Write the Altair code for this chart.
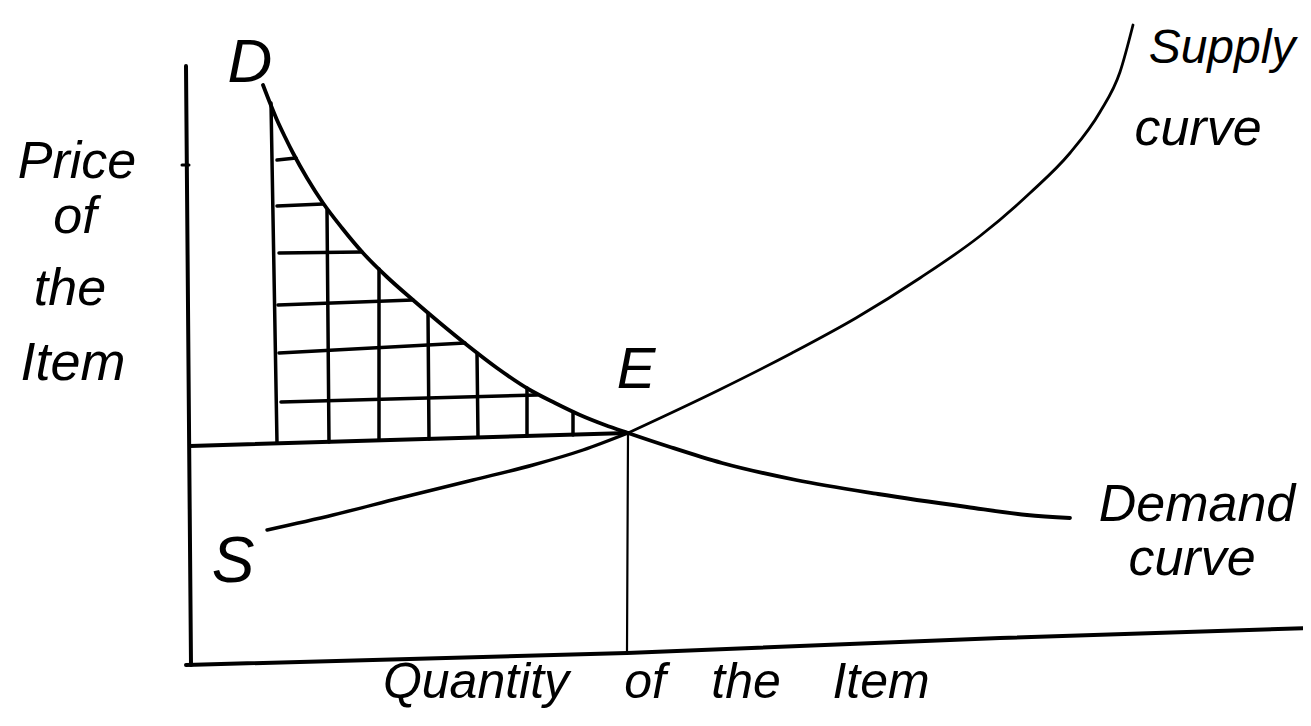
import altair as alt
import pandas as pd

# ---- picture-space reading (x grows right, y grows down) ----
W, H = 1295, 705
X0, Y0 = 8, 8

# axes (hand drawn, slightly tilted)
y_axis_x = [186, 191]
y_axis_y = [66, 665]
x_axis_x = [186, 627, 1000, 1308]
x_axis_y = [665, 653, 638, 628]
tick_x = [182, 189]
tick_y = [165, 165]

# equilibrium price line and quantity drop
price_x = [190, 628]
price_y = [446, 433]
drop_x = [628, 627]
drop_y = [433, 653]

# demand curve
demand_x = [263, 270, 277, 285, 293, 307, 323, 342, 363, 387, 413, 440, 467, 497, 530, 555,
            580, 605, 628, 670, 722, 796, 878, 967, 1027, 1070]
demand_y = [85, 103, 120, 137, 153, 178, 203, 228, 253, 277, 300, 323, 345, 368, 390, 403,
            415, 425, 433, 447, 463, 480, 494, 507, 515, 518]

# supply curve (lower part S..E, upper part E..top)
supply_lo_x = [267, 333, 400, 473, 533, 583, 628]
supply_lo_y = [530, 515, 498, 480, 465, 450, 433]
supply_hi_x = [628, 719, 792, 856, 920, 980, 1030, 1070, 1100, 1120, 1133]
supply_hi_y = [433, 390, 353, 318, 278, 236, 193, 153, 112, 72, 25]

# consumer-surplus hatching: vertical strokes
v_x_top = [271, 327, 379, 428, 477, 527, 573]
v_x_bot = [277, 329, 379, 429, 478, 527, 573]
v_y_top = [103, 210, 269, 313, 353, 388, 412]
v_y_bot = [443, 442, 440, 439, 437, 436, 435]
# horizontal strokes
h_x_left = [277, 277, 279, 278, 279, 281]
h_x_right = [296, 323, 362, 413, 465, 537]
h_y_left = [160, 206, 253, 305, 353, 402]
h_y_right = [158, 204, 252, 300, 343, 395]

# labels
label_text = ["D", "Price", "of", "the", "Item", "E", "S", "Supply", "curve",
              "Demand", "curve", "Quantity", "of", "the", "Item"]
label_x = [250, 77, 75, 70, 73, 636, 233, 1222, 1198, 1197, 1192, 476, 645, 746, 881]
label_y = [82, 178, 233, 305, 380, 388, 582, 63, 145, 521, 575, 698, 698, 698, 698]
label_size = [62, 52, 52, 52, 54, 58, 64, 48, 52, 52, 52, 50, 50, 50, 50]

# ---- build tables ----
rows = []
curve_rows = []


def add(name, xs, ys, w, target=rows):
    for i, (x, y) in enumerate(zip(xs, ys)):
        target.append({"series": name, "i": i, "x": x, "y": y, "w": w})


add("yaxis", y_axis_x, y_axis_y, 4)
add("xaxis", x_axis_x, x_axis_y, 4)
add("tick", tick_x, tick_y, 3)
add("price", price_x, price_y, 4)
add("drop", drop_x, drop_y, 2.2)
for k in range(len(v_x_top)):
    add(f"v{k}", [v_x_top[k], v_x_bot[k]], [v_y_top[k], v_y_bot[k]], 3.5)
for k in range(len(h_x_left)):
    add(f"h{k}", [h_x_left[k], h_x_right[k]], [h_y_left[k], h_y_right[k]], 3.5)
add("demand", demand_x, demand_y, 3.8, curve_rows)
add("supply_lo", supply_lo_x, supply_lo_y, 3.4, curve_rows)
add("supply_hi", supply_hi_x, supply_hi_y, 2.8, curve_rows)

lines = pd.DataFrame(rows)
curves = pd.DataFrame(curve_rows)
labels = pd.DataFrame({"t": label_text, "x": label_x, "y": label_y, "s": label_size})

xs = alt.Scale(domain=[X0, X0 + W], nice=False, zero=False)
ys = alt.Scale(domain=[Y0, Y0 + H], nice=False, zero=False, reverse=True)

enc = dict(
    x=alt.X("x:Q", scale=xs, axis=None),
    y=alt.Y("y:Q", scale=ys, axis=None),
    detail="series:N",
    order="i:Q",
    strokeWidth=alt.StrokeWidth("w:Q", scale=None),
)

line_layer = alt.Chart(lines).mark_line(
    color="black", strokeCap="round", strokeJoin="round").encode(**enc)

curve_layer = alt.Chart(curves).mark_line(
    color="black", strokeCap="round", strokeJoin="round",
    interpolate="monotone").encode(**enc)

text_layer = alt.Chart(labels).mark_text(
    font="Liberation Sans", fontStyle="italic", color="black",
    align="center", baseline="alphabetic",
).encode(
    x=alt.X("x:Q", scale=xs, axis=None),
    y=alt.Y("y:Q", scale=ys, axis=None),
    text="t:N",
    size=alt.Size("s:Q", scale=None),
)

chart = alt.layer(line_layer, curve_layer, text_layer).properties(
    width=W, height=H, padding=0, autosize=alt.AutoSizeParams(type="none"),
    background="white",
).configure_view(stroke=None)

chart.save("out.html", embed_options={"renderer": "svg", "actions": False})
